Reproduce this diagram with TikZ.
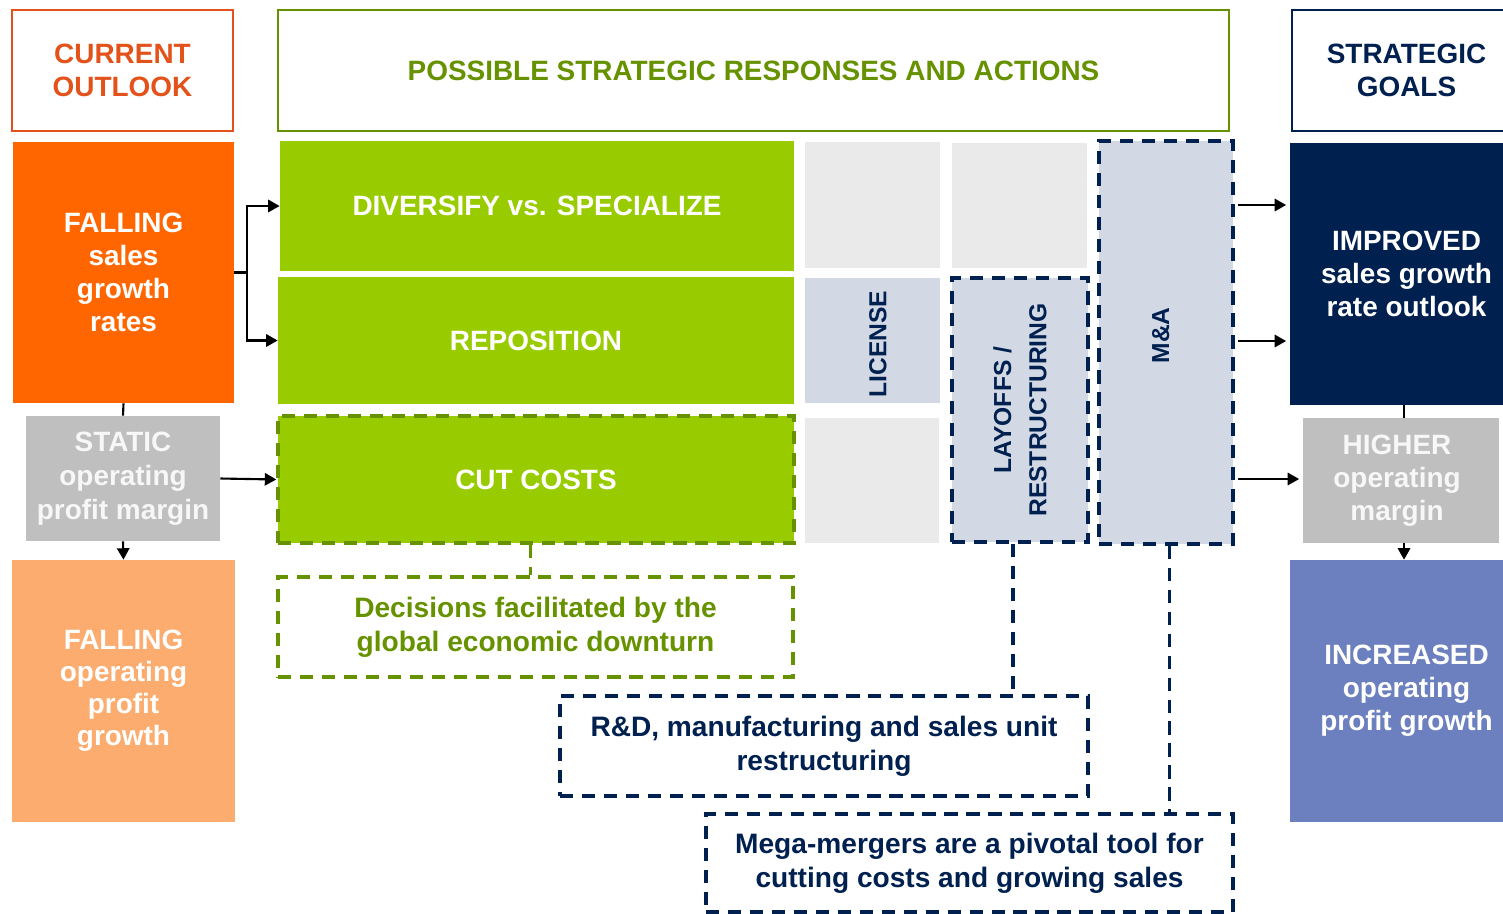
\documentclass[tikz,border=0pt]{standalone}
\usepackage{fontspec}
\setmainfont{Liberation Sans}
\usetikzlibrary{arrows.meta}

\definecolor{outlook}{RGB}{228,82,27}
\definecolor{falling}{RGB}{255,102,0}
\definecolor{peach}{RGB}{251,172,110}
\definecolor{stone}{RGB}{191,191,191}
\definecolor{leaf}{RGB}{153,204,0}
\definecolor{olive}{RGB}{102,146,0}
\definecolor{navy}{RGB}{0,32,80}
\definecolor{mist}{RGB}{211,217,228}
\definecolor{pale}{RGB}{234,234,234}
\definecolor{slate}{RGB}{108,127,190}

% a block from its corners (x1,y1) to (x2,y2)
\newcommand{\Tile}[7]{%
	\node[#6, minimum width={(#4-#2)*0.02cm}, minimum height={(#5-#3)*0.02cm}]
		(#1) at ({(#2+#4)/2},{(#3+#5)/2}) {#7};}

\begin{document}
\begin{tikzpicture}[x=0.02cm,y=-0.02cm]
		\tikzset{
			tile/.style = {rectangle,inner sep=0pt,align=center,text=white,
				font=\fontsize{15.9}{18.7}\selectfont\bfseries},
			head/.style = {tile,draw,line width=0.9pt,fill=white},
			dashbox/.style = {tile,draw,line width=2pt,dash pattern=on 7.5pt off 5pt},
			note/.style = {dashbox,font=\fontsize{16}{19.3}\selectfont\bfseries},
			vlabel/.style = {rotate=90,align=center,text=navy,
				font=\fontsize{14}{20}\selectfont\bfseries},
			link/.style = {line width=1.2pt},
			arr/.style = {link,-{Triangle[length=6.5pt,width=7pt]}},
			dashlink/.style = {line width=2pt,dash pattern=on 7.5pt off 5pt}
		}
		\useasboundingbox (0,0) rectangle (1503,913);
		\clip (0,0) rectangle (1503,913);
		% outlook
		\Tile{outlook}{12}{10}{233}{131}{head,draw=outlook,text=outlook}{CURRENT\\OUTLOOK}
		\Tile{fallsales}{13}{142}{234}{403}{tile,fill=falling}{FALLING\\sales\\growth\\rates}
		\Tile{static}{26}{416}{220}{541}{tile,fill=stone,text=white!97!black,font=\fontsize{15.9}{19.5}\selectfont\bfseries}{STATIC\\operating\\profit margin}
		\Tile{fallop}{12}{560}{235}{822}{tile,fill=peach,font=\fontsize{15.9}{18.2}\selectfont\bfseries}{FALLING\\operating\\profit\\growth}
		% responses
		\Tile{responses}{278}{10}{1229}{131}{head,draw=olive,text=olive}{POSSIBLE STRATEGIC RESPONSES AND ACTIONS}
		\Tile{diversify}{280}{141}{794}{271}{tile,fill=leaf}{DIVERSIFY vs. SPECIALIZE}
		\Tile{reposition}{278}{277}{794}{404}{tile,fill=leaf}{REPOSITION}
		\Tile{cutcosts}{278}{416}{794}{543}{dashbox,fill=leaf,draw=olive}{CUT COSTS}
		\Tile{decisions}{278}{577}{793}{677}{note,draw=olive,text=olive}{Decisions facilitated by the\\global economic downturn}
		% tools grid
		\Tile{blank1}{805}{142}{940}{268}{tile,fill=pale}{}
		\Tile{license}{805}{278}{940}{403}{tile,fill=mist}{}
		\Tile{blank2}{805}{418}{939}{543}{tile,fill=pale}{}
		\Tile{blank3}{952}{143}{1087}{268}{tile,fill=pale}{}
		\Tile{layoffs}{952}{278}{1088}{542}{dashbox,fill=mist,draw=navy}{}
		\Tile{ma}{1099}{141}{1233}{544}{dashbox,fill=mist,draw=navy}{}
		\node[vlabel] (license-t) at ([xshift=3,yshift=-2]license.center) {LICENSE};
		\node[vlabel] (layoffs-t) at (layoffs.center) {LAYOFFS /\\RESTRUCTURING};
		\node[vlabel] (ma-t) at ([xshift=-3,yshift=4]ma.center) {M\&A};
		% notes
		\Tile{rnd}{560}{696}{1088}{796}{note,draw=navy,text=navy}{R\&D, manufacturing and sales unit\\restructuring}
		\Tile{mega}{706}{814}{1233}{912}{note,draw=navy,text=navy}{Mega-mergers are a pivotal tool for\\cutting costs and growing sales}
		% goals
		\Tile{goals}{1292}{10}{1521}{131}{head,draw=navy,text=navy}{STRATEGIC\\GOALS}
		\Tile{improved}{1290}{143}{1523}{405}{tile,fill=navy}{IMPROVED\\sales growth\\rate outlook}
		\Tile{higher}{1303}{418}{1491}{543}{tile,fill=stone,text=white!97!black}{HIGHER\\operating\\margin}
		\fill[stone] (higher.north east) rectangle (1499,543);
		\Tile{increased}{1290}{560}{1523}{822}{tile,fill=slate}{INCREASED\\operating\\profit growth}
		% left links
		\draw[link] (fallsales.east) -- ++(13,0) coordinate (fork);
		\draw[arr] (fork) |- (diversify.west);
		\draw[arr] (fork) |- (reposition.west);
		\draw[arr] (static.east) -- (cutcosts.west);
		\draw[link] (fallsales.south) -- (static.north);
		\draw[arr] (static.south) -- (fallop.north);
		% right links
		\foreach \y/\t in {205/improved,341/improved,479/higher}
			\draw[arr,shorten <=2pt,shorten >=2pt] (ma.east |- 0,\y) -- (\t.west |- 0,\y);
		\draw[link] ([xshift=4]higher.north |- improved.south) -- ([xshift=4]higher.north);
		\draw[arr] ([xshift=4]higher.south) -- ([xshift=4]higher.south |- increased.north);
		% notes links
		\draw[dashlink,olive] ([xshift=-3]cutcosts.south) -- ([xshift=-3]cutcosts.south |- decisions.north);
		\draw[dashlink,navy] ([xshift=-4]layoffs.south) -- ([xshift=-4]layoffs.south |- rnd.north);
		\draw[dashlink,navy] ([xshift=2]ma.south) -- ([xshift=2]ma.south |- mega.north);
\end{tikzpicture}
\end{document}
